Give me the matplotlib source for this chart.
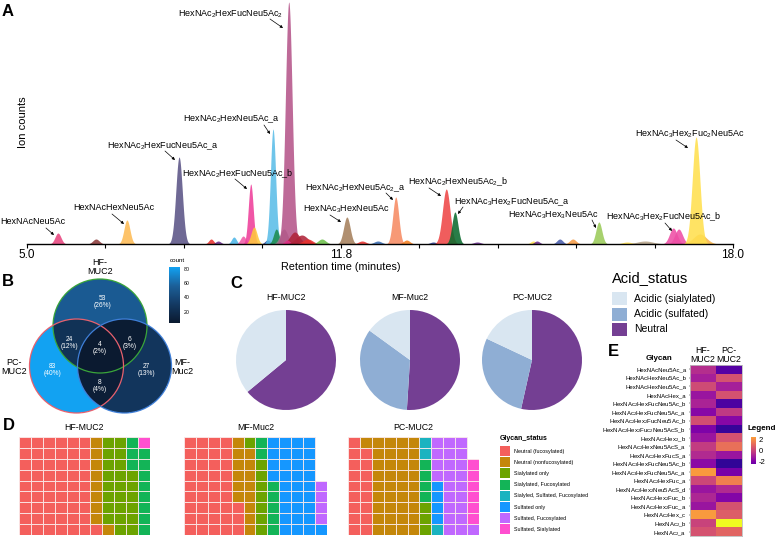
import numpy as np
import matplotlib
matplotlib.use("Agg")
import matplotlib.pyplot as plt
from matplotlib.patches import Circle, Rectangle
from matplotlib.colors import LinearSegmentedColormap, Normalize

plt.rcParams['font.family'] = ['Liberation Sans', 'DejaVu Sans']
plt.rcParams['mathtext.fontset'] = 'custom'
plt.rcParams['mathtext.rm'] = 'Liberation Sans'
plt.rcParams['mathtext.it'] = 'Liberation Sans'
plt.rcParams['mathtext.default'] = 'regular'

# ---------------- data ----------------
# panel A: chromatogram peaks (retention time, height, width, colour)
peak_rt = [5.57, 6.27, 6.84, 7.80, 8.39, 8.52, 8.81, 8.98, 9.12, 9.18, 9.43, 9.53, 9.59, 9.73,
           9.82, 9.93, 9.79, 10.06, 10.17, 10.43, 10.89, 11.17, 11.46, 11.79, 11.99, 12.48, 12.72,
           12.88, 13.29, 14.32, 14.39, 14.81, 15.05, 15.53, 16.05, 16.38, 16.9, 17.0, 17.39, 17.32]
peak_h = [11, 5, 24, 87, 5, 3, 7, 8, 60, 17, 4, 115, 15, 15,
          242, 12, 4, 9, 5, 5, 27, 3, 3, 47, 4, 2, 55,
          32, 2, 3, 3, 5, 5, 22, 2, 3, 16, 15, 10, 107]
peak_w = [0.055, 0.06, 0.055, 0.06, 0.045, 0.05, 0.045, 0.05, 0.045, 0.055, 0.05, 0.048, 0.05, 0.07,
          0.062, 0.09, 0.05, 0.11, 0.09, 0.07, 0.06, 0.07, 0.07, 0.055, 0.06, 0.06, 0.07,
          0.055, 0.07, 0.05, 0.05, 0.055, 0.06, 0.055, 0.09, 0.15, 0.07, 0.07, 0.12, 0.07]
peak_col = ['#E8457F', '#8B3A3A', '#FDBB55', '#5B5486', '#E8322E', '#6A2C8E', '#4DB6E8', '#F05BA6',
            '#EE3E9A', '#FFC83D', '#2A3C8F', '#5BBDE8', '#1E8C4E', '#9C7E8C',
            '#B5558A', '#B0243A', '#E0308A', '#B0243A', '#E8322E', '#6CC04A', '#A5805C', '#E8322E',
            '#3C6FB5', '#F68B63', '#F57F20', '#2A3C8F', '#EE4646',
            '#0B6B2E', '#6A2C8E', '#FFE14D', '#6A2C8E', '#4A5EAD', '#F59B45', '#9BCB5A', '#FFE14D',
            '#B7A48A', '#EE4FA5', '#EE4FA5', '#F9B54A', '#FFE04F']
tick_labels_A = ['5.0', '', '', '', '11.8', '', '', '', '', '18.0']

peak_names = ['HexNAcNeu5Ac', 'HexNAcHexNeu5Ac', 'HexNAc$_2$HexFucNeu5Ac_a',
              'HexNAc$_2$HexFucNeu5Ac_b', 'HexNAc$_2$HexNeu5Ac_a', 'HexNAc$_2$HexFucNeu5Ac$_2$',
              'HexNAc$_3$HexNeu5Ac', 'HexNAc$_2$HexNeu5Ac$_2$_a', 'HexNAc$_2$HexNeu5Ac$_2$_b',
              'HexNAc$_3$Hex$_2$FucNeu5Ac_a', 'HexNAc$_3$Hex$_3$Neu5Ac',
              'HexNAc$_3$Hex$_2$FucNeu5Ac_b', 'HexNAc$_3$Hex$_2$Fuc$_2$Neu5Ac']
# label centre, arrow tail, arrow head (pixels)
label_xy = [(33, 222), (114, 208), (163, 146), (238, 174), (231, 119), (231, 14), (346, 209),
            (355, 188), (458, 182), (512, 202), (553, 215), (664, 217), (690, 134)]
arrow_from = [(46, 228), (112, 214), (165, 151), (235, 179), (264, 125), (270, 19), (330, 215),
              (386, 193), (429, 188), (463, 207), (592, 220), (665, 223), (676, 140)]
arrow_to = [(54, 235), (124, 224), (175, 160), (247, 189), (270, 134), (283, 28), (341, 222),
            (393, 200), (441, 196), (458, 214), (596, 228), (672, 231), (688, 148)]

# panel B: venn counts
venn_sets = ['HF-\nMUC2', 'PC-\nMUC2', 'MF-\nMuc2']
hf_only, pc_only, mf_only = 53, 83, 27
hf_pc, hf_mf, pc_mf, all3 = 24, 6, 8, 4
venn_total = 205

# panel C: acid status (% neutral, sulfated, sialylated)
pie_samples = ['HF-MUC2', 'MF-Muc2', 'PC-MUC2']
neutral_pct = [64, 51, 53.5]
sulfated_pct = [0, 34, 28.5]
sialylated_pct = [36, 15, 18]
acid_labels = ['Acidic (sialylated)', 'Acidic (sulfated)', 'Neutral']
acid_colors = ['#D9E6F1', '#8FAED4', '#743F93']

# panel D: glycan status waffles
glycan_status = ['Neutral (fucosylated)', 'Neutral (nonfucosylated)', 'Sialylated only',
                 'Sialylated, Fucosylated', 'Sialyled, Sulfated, Fucosylated', 'Sulfated only',
                 'Sulfated, Fucosylated', 'Sulfated, Sialylated']
status_colors = ['#F45F5C', '#C4870A', '#6CA300', '#13B457', '#1AB3C0', '#1597FF', '#C068FF', '#FF4FD0']
waffle_hf = [55, 9, 23, 11, 0, 0, 0, 1]
waffle_mf = [39, 14, 8, 7, 0, 32, 4, 0]
waffle_pc = [17, 37, 3, 4, 3, 4, 23, 6]

# panel E: heatmap
heat_glycans = ['HexNAcNeu5Ac_a', 'HexNAcHexNeu5Ac_b', 'HexNAcHexNeu5Ac_a', 'HexNAcHex_a',
                'HexNAc$_2$HexFucNeu5Ac_b', 'HexNAc$_2$HexFucNeu5Ac_a', 'HexNAc$_2$Hex$_2$FucNeu5Ac_b',
                'HexNAc$_2$Hex$_2$Fuc$_2$Neu5AcS_b', 'HexNAc$_2$Hex$_2$_b', 'HexNAc$_2$HexNeu5AcS_a',
                'HexNAc$_2$HexFucS_a', 'HexNAc$_3$HexFucNeu5Ac_b', 'HexNAc$_3$HexFucNeu5Ac_a',
                'HexNAc$_2$HexFuc_a', 'HexNAc$_2$Hex$_2$Neu5AcS_d', 'HexNAc$_2$Hex$_2$Fuc_b',
                'HexNAc$_2$Hex$_2$Fuc_a', 'HexNAc$_2$Hex_c', 'HexNAc$_2$_b', 'HexNAc$_2$_a']
heat_hf = [-0.7, -1.1, 0.1, -1.4, -1.0, -1.8, 0.2, -2.0, -1.4, -0.3,
           -0.8, -1.7, 2.1, 0.0, -1.4, -0.9, -1.4, 2.1, -0.1, 0.3]
heat_pc = [-2.8, 0.3, -1.1, 0.3, -3.0, -0.4, -1.8, -3.4, 0.3, 1.1,
           -1.4, -3.5, -2.1, 1.5, -0.8, -1.9, 0.3, 0.6, 4.0, 0.8]

# ---------------- figure ----------------
W, H = 777, 543
fig = plt.figure(figsize=(W / 100, H / 100), dpi=100)


def px_ax(x0, y0, x1, y1):
    return fig.add_axes([x0 / W, 1 - y1 / H, (x1 - x0) / W, (y1 - y0) / H])


# overlay for free text
ov = fig.add_axes([0, 0, 1, 1], zorder=10)
ov.set_xlim(0, W)
ov.set_ylim(H, 0)
ov.axis('off')
ov.patch.set_alpha(0)

# ---- A ----
axA = px_ax(27, 0, 733, 244)
rt = np.linspace(5, 18, 4000)
for c, h, w, col in zip(peak_rt, peak_h, peak_w, peak_col):
    y = h * np.exp(-0.5 * ((rt - c) / w) ** 2)
    axA.fill_between(rt, 0, y, color=col, alpha=0.88, lw=0)
axA.set_xlim(5, 18)
axA.set_ylim(0, 244)
axA.set_xticks(np.linspace(5, 18, 10))
axA.set_xticklabels(tick_labels_A, fontsize=8.5)
axA.set_yticks([])
for s in ['top', 'right', 'left']:
    axA.spines[s].set_visible(False)
axA.spines['bottom'].set_linewidth(1.0)
axA.tick_params(axis='x', length=3, width=0.8, pad=0.5)
axA.patch.set_alpha(0)

for name, (tx, ty), p0, p1 in zip(peak_names, label_xy, arrow_from, arrow_to):
    ov.text(tx, ty, name, fontsize=6.5, ha='center', va='center')
    ov.annotate('', xy=p1, xytext=p0,
                arrowprops=dict(arrowstyle='-|>', lw=0.5, color='black', mutation_scale=4,
                                shrinkA=0, shrinkB=0))
ov.text(341, 267, 'Retention time (minutes)', fontsize=7.8, ha='center', va='center')
ov.text(23, 122, 'Ion counts', fontsize=8, ha='center', va='center', rotation=90)

# ---- B ----
axB = px_ax(0, 255, 200, 420)
axB.set_xlim(0, 200)
axB.set_ylim(420, 255)
axB.axis('off')
centers = [(100, 326), (76.5, 366), (124.5, 366)]
r = 47
gx, gy = np.meshgrid(np.linspace(0, 200, 800), np.linspace(255, 420, 660))
inside = [((gx - cx) ** 2 + (gy - cy) ** 2) <= r * r for cx, cy in centers]
counts = np.full(gx.shape, np.nan)
a, b, c = inside
counts[a & ~b & ~c] = hf_only
counts[b & ~a & ~c] = pc_only
counts[c & ~a & ~b] = mf_only
counts[a & b & ~c] = hf_pc
counts[a & c & ~b] = hf_mf
counts[b & c & ~a] = pc_mf
counts[a & b & c] = all3
venn_cmap = LinearSegmentedColormap.from_list(
    'venn', ['#0b1a30', '#143a63', '#1c609a', '#12a2f2'], N=256)
venn_norm = Normalize(4, 83)
axB.imshow(np.ma.masked_invalid(counts), cmap=venn_cmap, norm=venn_norm,
           extent=(0, 200, 420, 255), origin='upper', interpolation='nearest')
for (cx, cy), ec in zip(centers, ['#3aa53a', '#e8616e', '#3f7fd8']):
    axB.add_patch(Circle((cx, cy), r, fill=False, ec=ec, lw=0.9))

region_vals = [hf_only, hf_pc, all3, hf_mf, pc_only, mf_only, pc_mf]
region_pos = [(102, 302), (69, 343), (100, 348), (130, 343), (52, 370), (146, 370), (100, 386)]
for v, (x, y) in zip(region_vals, region_pos):
    ov.text(x, y, f"{v}\n({round(100 * v / venn_total)}%)", fontsize=4.8, color='white',
            ha='center', va='center', linespacing=1.1)
for name, (x, y) in zip(venn_sets, [(100, 267), (14, 367), (182, 367)]):
    ov.text(x, y, name, fontsize=6.5, ha='center', va='center', linespacing=1.0)

caxB = px_ax(169, 267, 180, 323)
grad = np.linspace(83, 4, 200).reshape(-1, 1)
caxB.imshow(grad, cmap=venn_cmap, norm=venn_norm, aspect='auto', extent=(0, 1, 4, 83))
caxB.set_xticks([])
caxB.yaxis.tick_right()
caxB.set_yticks([20, 40, 60, 80])
caxB.tick_params(axis='y', length=1.5, width=0.4, labelsize=3.8, pad=1, color='white')
for s in caxB.spines.values():
    s.set_visible(False)
ov.text(170, 261, 'count', fontsize=4.5, ha='left', va='center')

# ---- C ----
pie_centers = [286, 410, 532]
for i, cx in enumerate(pie_centers):
    axp = px_ax(cx - 52, 360 - 52, cx + 52, 360 + 52)
    vals = [neutral_pct[i], sulfated_pct[i], sialylated_pct[i]]
    axp.pie(vals, colors=[acid_colors[2], acid_colors[1], acid_colors[0]], startangle=90,
            counterclock=False, radius=1, wedgeprops=dict(lw=0))
    axp.set_xlim(-1.04, 1.04)
    axp.set_ylim(-1.04, 1.04)
    axp.set_aspect('equal')
    ov.text(cx, 298, pie_samples[i], fontsize=6.3, ha='center', va='center')

ov.text(612, 278, 'Acid_status', fontsize=10.5, ha='left', va='center')
for i, lab in enumerate(acid_labels):
    y0 = 292 + i * 15.5
    ov.add_patch(Rectangle((612, y0), 15, 13, color=acid_colors[i], lw=0))
    ov.text(634, y0 + 6.5, lab, fontsize=7.5, ha='left', va='center')

# ---- D ----
nrow = 9
waffles = [('HF-MUC2', waffle_hf, 19), ('MF-Muc2', waffle_mf, 184), ('PC-MUC2', waffle_pc, 348)]
cell_w = 11.9
for title, cnts, x0 in waffles:
    total = sum(cnts)
    ncol = int(np.ceil(total / nrow))
    seq = np.repeat(np.arange(len(cnts)), cnts)
    axw = px_ax(x0, 437, x0 + ncol * cell_w, 535)
    # fill column by column, bottom to top
    for k, cat in enumerate(seq):
        axw.add_patch(Rectangle((k // nrow, k % nrow), 1, 1, facecolor=status_colors[cat],
                                edgecolor='#fbeaea', lw=0.6))
    axw.set_xlim(0, ncol)
    axw.set_ylim(0, nrow)
    axw.axis('off')
    ov.text(x0 + ncol * cell_w / 2, 428, title, fontsize=6.3, ha='center', va='center')

ov.text(500, 438, 'Glycan_status', fontsize=5, fontweight='bold', ha='left', va='center')
for i, lab in enumerate(glycan_status):
    y0 = 446 + i * 11.2
    ov.add_patch(Rectangle((500, y0), 10, 10, color=status_colors[i], lw=0))
    ov.text(514, y0 + 5, lab, fontsize=3.9, ha='left', va='center')

# ---- E ----
axE = px_ax(690, 365, 742, 536)
heat = np.column_stack([heat_hf, heat_pc])
heat_norm = Normalize(-4, 4)
axE.pcolormesh(np.arange(3), np.arange(len(heat_glycans) + 1), heat, cmap='plasma',
               norm=heat_norm, edgecolors='none')
axE.set_xlim(0, 2)
axE.set_ylim(len(heat_glycans), 0)
axE.set_xticks([])
axE.set_yticks(np.arange(len(heat_glycans)) + 0.5)
axE.set_yticklabels(heat_glycans, fontsize=4.3)
axE.tick_params(axis='y', length=1, width=0.3, pad=1.5)
for s in axE.spines.values():
    s.set_color('#bdbdbd')
    s.set_linewidth(0.6)
ov.text(703, 355, 'HF-\nMUC2', fontsize=6.3, ha='center', va='center', linespacing=1.0)
ov.text(729, 355, 'PC-\nMUC2', fontsize=6.3, ha='center', va='center', linespacing=1.0)
ov.text(659, 359, 'Glycan', fontsize=5.8, fontweight='bold', ha='center', va='center')

caxE = px_ax(751, 436.7, 756, 464.3)
grad = np.linspace(2.4, -2.4, 200).reshape(-1, 1)
caxE.imshow(grad, cmap='plasma', norm=heat_norm, aspect='auto', extent=(0, 1, -2.4, 2.4))
caxE.set_xticks([])
caxE.yaxis.tick_right()
caxE.set_yticks([2, 0, -2])
caxE.set_yticklabels(['2', '0', '-2'])
caxE.tick_params(axis='y', length=0, labelsize=5.5, pad=2)
for s in caxE.spines.values():
    s.set_visible(False)
ov.text(762, 428, 'Legend', fontsize=5.8, fontweight='bold', ha='center', va='center')

# panel letters
for lab, (x, y) in zip('ABCDE', [(8, 12), (8, 282), (236, 283), (9, 425), (613, 351)]):
    ov.text(x, y, lab, fontsize=12, fontweight='bold', ha='center', va='center')

fig.savefig('out.png', dpi=100)
